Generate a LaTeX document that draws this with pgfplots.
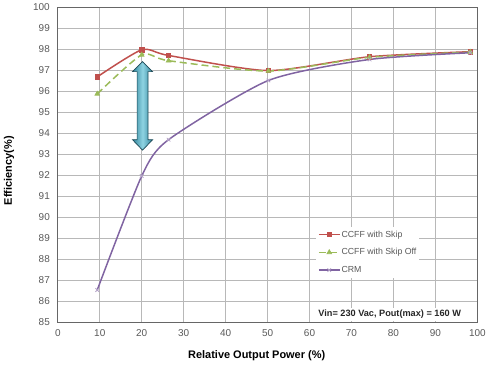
\documentclass[border=0pt]{standalone}
\usepackage{pgfplots}
\pgfplotsset{compat=1.18}
\usepackage{fontspec}
\setmainfont{Liberation Sans}
\definecolor{cRed}{HTML}{C0504D}
\definecolor{cGreen}{HTML}{9BBB59}
\definecolor{cPurple}{HTML}{8064A2}
\definecolor{cGrid}{HTML}{B8B8B8}
\definecolor{cTick}{HTML}{595959}
\definecolor{cTeal}{HTML}{31859C}
\definecolor{cTealL}{HTML}{8ED3E2}
\begin{document}
\begin{tikzpicture}
\path (-58pt,-44pt) rectangle (431pt,323pt);
\begin{axis}[
  at={(0,0)}, anchor=origin,
  scale only axis, width=421pt, height=316pt,
  xmin=0, xmax=100, ymin=85, ymax=100,
  xtick={0,10,...,100}, ytick={85,86,...,100},
  grid=major,
  major grid style={cGrid, line width=0.8pt},
  major tick length=0pt,
  axis line style={draw=gray!80!black, line width=0.8pt},
  tick label style={font=\fontsize{10}{12}\selectfont, text=cTick},
  /pgf/number format/assume math mode=true,
  yticklabel style={xshift=-4.5pt},
  xticklabel style={yshift=-4pt},
  xlabel={Relative Output Power (\%)},
  ylabel={Efficiency(\%)},
  every axis x label/.style={at={(rel axis cs:0.474,0)}, yshift=-34pt, anchor=center, font=\fontsize{11}{13}\selectfont\bfseries},
  every axis y label/.style={at={(rel axis cs:0,0.48)}, xshift=-49pt, anchor=center, rotate=90, font=\fontsize{11}{13}\selectfont\bfseries},
  legend style={at={(rel axis cs:0.615,0.303)}, anchor=north west, draw=none, fill=white,
    font=\fontsize{8.8}{10}\selectfont, text=cTick, row sep=6pt, inner sep=2pt,
    nodes={inner xsep=1pt}},
  legend cell align=left,
  legend image code/.code={
    \draw[mark repeat=2,mark phase=2,#1] plot coordinates {(0cm,0cm) (0.37cm,0cm) (0.74cm,0cm)};},
]
\addplot[cRed, line width=1.5pt, smooth, tension=0.4, mark=square*, mark size=2.3pt, mark options={solid, line width=0.8pt}]
  coordinates {(9.4,96.67) (20,97.96) (26.4,97.69) (50.2,96.97) (74.3,97.63) (98.3,97.87)};
\addlegendentry{CCFF with Skip}
\addplot[cGreen, line width=1.5pt, dash pattern=on 7pt off 4pt, smooth, tension=0.4, mark=triangle*, mark size=2.6pt, mark options={solid, line width=0.8pt}]
  coordinates {(9.4,95.86) (20,97.72) (26.4,97.44) (50.2,96.95) (74.3,97.6) (98.3,97.85)};
\addlegendentry{CCFF with Skip Off}
\addplot[cPurple, line width=1.5pt, smooth, tension=0.4, mark=x, mark size=2.5pt, mark options={solid, line width=0.8pt, cPurple!60}]
  coordinates {(9.4,86.52) (20,91.95) (26.4,93.68) (50.2,96.5) (74.3,97.5) (98.3,97.82)};
\addlegendentry{CRM}
% frame shadow
\draw[gray!55, line width=2pt] ([xshift=1.8pt,yshift=-1pt]rel axis cs:1,1) -- ([xshift=1.8pt,yshift=-1.8pt]rel axis cs:1,0) -- ([xshift=2pt,yshift=-1.8pt]rel axis cs:0,0);
% double arrow annotation
\path[draw=cTeal!55!black, line width=0.7pt, left color=cTeal, right color=cTeal, middle color=cTealL]
  (axis cs:20.2,97.4) -- (axis cs:22.6,96.92) -- (axis cs:21.5,96.92) -- (axis cs:21.5,93.68)
  -- (axis cs:22.6,93.68) -- (axis cs:20.2,93.18) -- (axis cs:17.8,93.68) -- (axis cs:18.9,93.68)
  -- (axis cs:18.9,96.92) -- (axis cs:17.8,96.92) -- cycle;
\node[fill=white, inner sep=2pt, font=\fontsize{9.2}{11}\selectfont\bfseries, text=black!85] at (axis cs:79.1,85.36) {Vin= 230 Vac, Pout(max) = 160 W};
\end{axis}
\end{tikzpicture}
\end{document}
